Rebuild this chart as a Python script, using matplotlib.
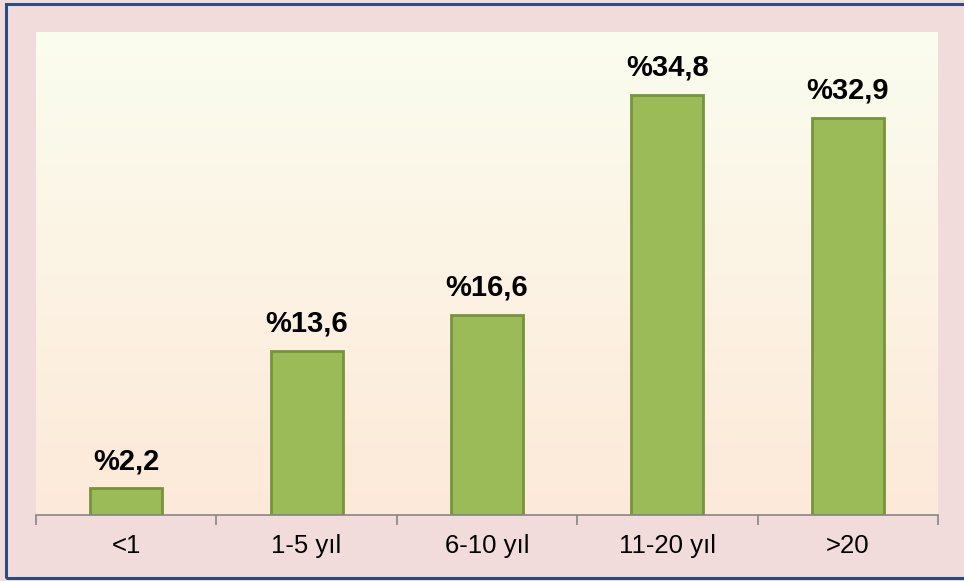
import matplotlib
matplotlib.use('Agg')
import matplotlib.pyplot as plt
import numpy as np
from matplotlib.colors import LinearSegmentedColormap
from matplotlib.patches import Rectangle

plt.rcParams['font.family'] = ['Liberation Sans', 'DejaVu Sans']

categories = ['<1', '1-5 yıl', '6-10 yıl', '11-20 yıl', '>20']
values = [2.2, 13.6, 16.6, 34.8, 32.9]
labels = ['%2,2', '%13,6', '%16,6', '%34,8', '%32,9']

fig = plt.figure(figsize=(9.64, 5.81), dpi=100)
fig.patch.set_facecolor('#f2dcdb')

# outer frame (right edge runs off the picture)
fig.patches.append(Rectangle((6 / 964, 3 / 581), 1.0, 574 / 581, transform=fig.transFigure,
                             fill=False, edgecolor='#284d80', linewidth=2.2, zorder=10))

ax = fig.add_axes([36 / 964, 66 / 581, 902 / 964, 483 / 581])
ax.set_facecolor('none')

x = np.arange(len(categories))
ax.set_xlim(-0.5, len(categories) - 0.5)
ax.set_ylim(0, 40)

# vertical gradient background
cmap = LinearSegmentedColormap.from_list('bg', ['#fde9d9', '#fcf3e4', '#fafdef'])
grad = np.linspace(0, 1, 256).reshape(-1, 1)
ax.imshow(grad, aspect='auto', cmap=cmap, origin='lower',
          extent=(-0.5, len(categories) - 0.5, 0, 40), zorder=0)

ax.bar(x, values, width=0.4, color='#9bbb59', edgecolor='#77933c', linewidth=2, zorder=2)

for xi, v, lab in zip(x, values, labels):
    ax.text(xi, v + 1.1, lab, ha='center', va='bottom', fontsize=21, fontweight='bold', zorder=3)

for s in ['top', 'right', 'left']:
    ax.spines[s].set_visible(False)
ax.spines['bottom'].set_color('#868686')
ax.spines['bottom'].set_linewidth(1.2)
ax.spines['bottom'].set_zorder(4)

ax.set_yticks([])
ax.set_xticks(x)
ax.set_xticklabels(categories, fontsize=18.5)
ax.tick_params(axis='x', which='major', length=0, pad=14)
ax.set_xticks(np.arange(-0.5, len(categories)), minor=True)
ax.tick_params(axis='x', which='minor', length=7, width=1.2, color='#868686')

fig.savefig('out.png', dpi=100, facecolor=fig.get_facecolor())
